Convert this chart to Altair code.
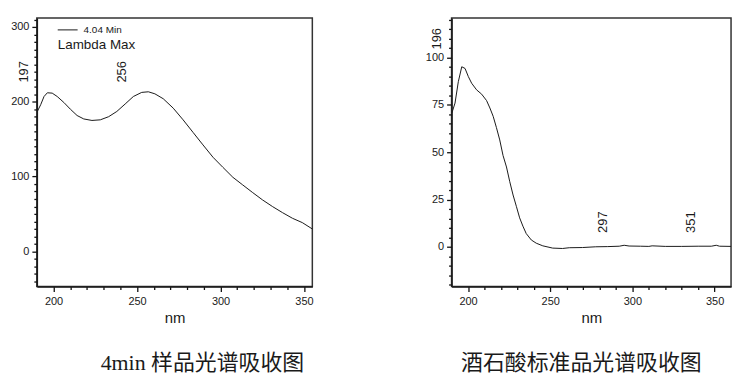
import altair as alt
import pandas as pd

# ---- Left panel: 4 min sample spectrum ----
s_nm = [190.3, 192.3, 194.3, 196.3, 199.2, 202.2, 206.2, 210.1, 214.1, 218.1, 223.0, 228.0,
        233.0, 237.9, 242.9, 247.8, 252.8, 256.8, 260.7, 265.7, 271.7, 277.6, 283.6, 289.5,
        295.5, 301.4, 307.4, 313.3, 319.3, 325.2, 331.2, 337.1, 343.1, 349.0, 355.0]
s_abs = [187, 196, 207, 212, 211.5, 207, 199, 190, 181.6, 177, 175, 175.8,
         180, 187, 197, 207, 212.5, 213.3, 210.6, 204, 191.4, 175.8, 158.9, 142.3,
         125.8, 112.4, 99, 88.8, 78.5, 68.7, 59.8, 51.8, 44.2, 38.4, 29.9]
s_peak_nm = [197, 256]
s_peak_lab = ["197", "256"]
s_peak_y = [240, 240]

# ---- Right panel: tartaric acid standard spectrum ----
t_nm = [190.2, 192.1, 194.1, 196.2, 198.2, 200.2, 202.2, 205.2, 208.3, 211.3, 213.3, 215.3,
        217.3, 219.3, 221.3, 223.4, 225.4, 227.4, 229.4, 231.4, 233.4, 235.4, 238.5, 241.5,
        245.5, 251.5, 257.5, 261.6, 269.6, 277.7, 285, 292, 295, 298, 305, 310, 312, 320,
        330, 340, 348, 351, 353, 360]
t_abs = [70.8, 76, 87.3, 95.2, 94.3, 90, 86.5, 83, 80.7, 77.3, 73.4, 69,
         63, 56.5, 48.3, 42.2, 34.4, 27.4, 21.4, 15.3, 10.9, 7, 3.6, 1.9,
         0.5, -0.7, -0.9, -0.5, -0.4, 0, 0.1, 0.3, 0.8, 0.4, 0.3, 0.2, 0.5, 0.2,
         0.2, 0.3, 0.3, 0.8, 0.3, 0.2]
t_peak_nm = [196, 297, 351]
t_peak_lab = ["196", "297", "351"]
t_peak_y = [110, 13, 13]

legend_label = ["4.04 Min"]
legend_title = ["Lambda Max"]
captions = ["4min 样品光谱吸收图", "酒石酸标准品光谱吸收图"]

FONT = "Liberation Sans"
INK = "#1a1a1a"


def panel(nm, ab, pk_nm, pk_lab, pk_y, xdom, ydom, xvals, yvals, xmaj, ymaj, w, h,
          caption, cap_dx, legend=False):
    df = pd.DataFrame({"nm": nm, "abs": ab})
    pk = pd.DataFrame({"nm": pk_nm, "abs": pk_y, "lab": pk_lab})
    xenc = alt.X("nm:Q", scale=alt.Scale(domain=xdom, nice=False, zero=False),
                 axis=alt.Axis(values=xvals, title="nm",
                               labelExpr=f"datum.value % {xmaj} === 0 ? datum.label : ''",
                               tickSize={"condition": {"test": f"datum.value % {xmaj} === 0", "value": 5}, "value": 3},
                               tickColor="#111111", tickWidth=1.3,
                               labelPadding=4, titlePadding=4, labelFlush=False, grid=False))
    yenc = alt.Y("abs:Q", scale=alt.Scale(domain=ydom, nice=False, zero=False),
                 axis=alt.Axis(values=yvals, title=None,
                               labelExpr=f"datum.value % {ymaj} === 0 ? datum.label : ''",
                               tickSize={"condition": {"test": f"datum.value % {ymaj} === 0", "value": 5}, "value": 3},
                               tickColor="#111111", tickWidth=1.3,
                               labelPadding=3, minExtent=28, maxExtent=28, labelFlush=False, grid=False))
    line = alt.Chart(df).mark_line(color=INK, strokeWidth=1).encode(x=xenc, y=yenc)
    labels = alt.Chart(pk).mark_text(angle=270, dy=-25, font=FONT, fontSize=13, color=INK,
                                     align="center", baseline="middle").encode(
        x=xenc, y=yenc, text="lab:N")
    layers = [line, labels]
    if legend:
        ldf = pd.DataFrame({"t": legend_label})
        tdf = pd.DataFrame({"t": legend_title})
        layers.append(alt.Chart(ldf).mark_rule(color=INK, strokeWidth=1).encode(
            x=alt.value(21), x2=alt.value(41), y=alt.value(12)))
        layers.append(alt.Chart(ldf).mark_text(font=FONT, fontSize=10, color=INK, align="left",
                                               baseline="middle").encode(
            x=alt.value(47), y=alt.value(12), text="t:N"))
        layers.append(alt.Chart(tdf).mark_text(font=FONT, fontSize=13.5, color=INK, align="left",
                                               baseline="middle").encode(
            x=alt.value(21), y=alt.value(27), text="t:N"))
    return alt.layer(*layers).properties(
        width=w, height=h,
        title=alt.TitleParams(text=caption, orient="bottom", anchor="middle", dx=cap_dx,
                              offset=28, font="Liberation Serif, Noto Sans CJK SC",
                              fontSize=22, fontWeight="normal", color=INK))


left = panel(s_nm, s_abs, s_peak_nm, s_peak_lab, s_peak_y,
             [190, 355], [-47, 312],
             list(range(200, 351, 10)), list(range(-40, 311, 10)), 50, 100,
             277, 270, captions[0], 28, legend=True)
right = panel(t_nm, t_abs, t_peak_nm, t_peak_lab, t_peak_y,
              [190, 360], [-21, 121],
              list(range(200, 351, 10)), list(range(-20, 121, 5)), 50, 25,
              281, 270, captions[1], -10)

chart = alt.hconcat(left, right, spacing=108).properties(
    padding={"left": 0, "top": 8, "right": 5, "bottom": 5},
    background="white",
).configure_view(stroke="#333", strokeWidth=1.5).configure_axis(
    domainColor=INK, domainWidth=1.5,
    labelFont=FONT, labelFontSize=11, labelColor=INK,
    titleFont=FONT, titleFontSize=15, titleFontWeight="normal", titleColor=INK,
)

chart.save("out.html", embed_options={"renderer": "svg", "actions": False})
